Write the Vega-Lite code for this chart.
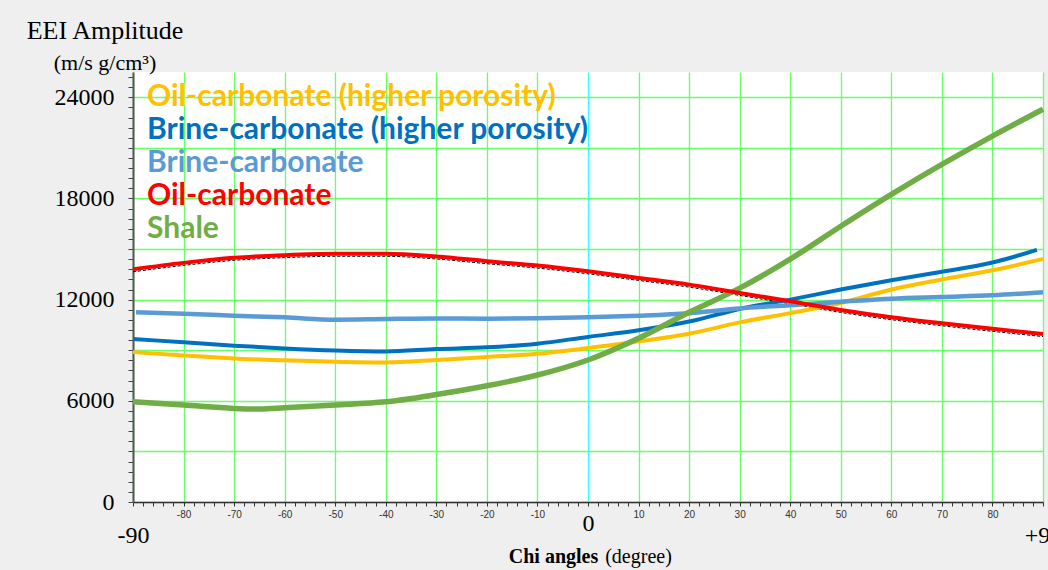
{
  "$schema": "https://vega.github.io/schema/vega-lite/v6.json",
  "width": 910,
  "height": 430,
  "autosize": {"type": "none"},
  "padding": {"left": 133, "top": 72, "right": 5, "bottom": 68},
  "background": "#efefef",
  "config": {"view": {"fill": "#ffffff", "stroke": null}},
  "title": {
    "text": "EEI Amplitude",
    "subtitle": "(m/s g/cm³)",
    "anchor": "start",
    "frame": "group",
    "align": "center",
    "dx": -28,
    "offset": -9,
    "font": "Liberation Serif",
    "fontSize": 26,
    "fontWeight": "normal",
    "color": "#000000",
    "subtitleFont": "Liberation Serif",
    "subtitleFontSize": 22,
    "subtitleColor": "#000000",
    "subtitlePadding": 9
  },
  "data": {
    "values": [
      {"series": "Oil-carbonate (higher porosity)", "chi": -90, "eei": 8890},
      {"series": "Oil-carbonate (higher porosity)", "chi": -80, "eei": 8690},
      {"series": "Oil-carbonate (higher porosity)", "chi": -70, "eei": 8510},
      {"series": "Oil-carbonate (higher porosity)", "chi": -60, "eei": 8400},
      {"series": "Oil-carbonate (higher porosity)", "chi": -50, "eei": 8320},
      {"series": "Oil-carbonate (higher porosity)", "chi": -40, "eei": 8280},
      {"series": "Oil-carbonate (higher porosity)", "chi": -30, "eei": 8420},
      {"series": "Oil-carbonate (higher porosity)", "chi": -20, "eei": 8600},
      {"series": "Oil-carbonate (higher porosity)", "chi": -10, "eei": 8790},
      {"series": "Oil-carbonate (higher porosity)", "chi": 0, "eei": 9130},
      {"series": "Oil-carbonate (higher porosity)", "chi": 10, "eei": 9530},
      {"series": "Oil-carbonate (higher porosity)", "chi": 20, "eei": 9980},
      {"series": "Oil-carbonate (higher porosity)", "chi": 30, "eei": 10650},
      {"series": "Oil-carbonate (higher porosity)", "chi": 40, "eei": 11200},
      {"series": "Oil-carbonate (higher porosity)", "chi": 50, "eei": 11800},
      {"series": "Oil-carbonate (higher porosity)", "chi": 60, "eei": 12600},
      {"series": "Oil-carbonate (higher porosity)", "chi": 70, "eei": 13200},
      {"series": "Oil-carbonate (higher porosity)", "chi": 80, "eei": 13740},
      {"series": "Oil-carbonate (higher porosity)", "chi": 90, "eei": 14420},

      {"series": "Brine-carbonate (higher porosity)", "chi": -90, "eei": 9670},
      {"series": "Brine-carbonate (higher porosity)", "chi": -80, "eei": 9470},
      {"series": "Brine-carbonate (higher porosity)", "chi": -70, "eei": 9270},
      {"series": "Brine-carbonate (higher porosity)", "chi": -60, "eei": 9110},
      {"series": "Brine-carbonate (higher porosity)", "chi": -50, "eei": 8990},
      {"series": "Brine-carbonate (higher porosity)", "chi": -40, "eei": 8930},
      {"series": "Brine-carbonate (higher porosity)", "chi": -30, "eei": 9070},
      {"series": "Brine-carbonate (higher porosity)", "chi": -20, "eei": 9170},
      {"series": "Brine-carbonate (higher porosity)", "chi": -10, "eei": 9390},
      {"series": "Brine-carbonate (higher porosity)", "chi": 0, "eei": 9790},
      {"series": "Brine-carbonate (higher porosity)", "chi": 10, "eei": 10180},
      {"series": "Brine-carbonate (higher porosity)", "chi": 20, "eei": 10700},
      {"series": "Brine-carbonate (higher porosity)", "chi": 30, "eei": 11450},
      {"series": "Brine-carbonate (higher porosity)", "chi": 40, "eei": 12000},
      {"series": "Brine-carbonate (higher porosity)", "chi": 50, "eei": 12600},
      {"series": "Brine-carbonate (higher porosity)", "chi": 60, "eei": 13150},
      {"series": "Brine-carbonate (higher porosity)", "chi": 70, "eei": 13650},
      {"series": "Brine-carbonate (higher porosity)", "chi": 80, "eei": 14200},
      {"series": "Brine-carbonate (higher porosity)", "chi": 88.8, "eei": 14950},

      {"series": "Brine-carbonate", "chi": -89.4, "eei": 11250},
      {"series": "Brine-carbonate", "chi": -80, "eei": 11170},
      {"series": "Brine-carbonate", "chi": -70, "eei": 11050},
      {"series": "Brine-carbonate", "chi": -60, "eei": 10950},
      {"series": "Brine-carbonate", "chi": -50, "eei": 10810},
      {"series": "Brine-carbonate", "chi": -40, "eei": 10850},
      {"series": "Brine-carbonate", "chi": -30, "eei": 10880},
      {"series": "Brine-carbonate", "chi": -20, "eei": 10870},
      {"series": "Brine-carbonate", "chi": -10, "eei": 10890},
      {"series": "Brine-carbonate", "chi": 0, "eei": 10950},
      {"series": "Brine-carbonate", "chi": 10, "eei": 11050},
      {"series": "Brine-carbonate", "chi": 20, "eei": 11200},
      {"series": "Brine-carbonate", "chi": 30, "eei": 11480},
      {"series": "Brine-carbonate", "chi": 40, "eei": 11670},
      {"series": "Brine-carbonate", "chi": 50, "eei": 11870},
      {"series": "Brine-carbonate", "chi": 60, "eei": 12060},
      {"series": "Brine-carbonate", "chi": 70, "eei": 12160},
      {"series": "Brine-carbonate", "chi": 80, "eei": 12260},
      {"series": "Brine-carbonate", "chi": 90, "eei": 12440},

      {"series": "Oil-carbonate", "chi": -90, "eei": 13800},
      {"series": "Oil-carbonate", "chi": -80, "eei": 14180},
      {"series": "Oil-carbonate", "chi": -70, "eei": 14480},
      {"series": "Oil-carbonate", "chi": -60, "eei": 14640},
      {"series": "Oil-carbonate", "chi": -50, "eei": 14720},
      {"series": "Oil-carbonate", "chi": -40, "eei": 14720},
      {"series": "Oil-carbonate", "chi": -30, "eei": 14560},
      {"series": "Oil-carbonate", "chi": -20, "eei": 14280},
      {"series": "Oil-carbonate", "chi": -10, "eei": 14020},
      {"series": "Oil-carbonate", "chi": 0, "eei": 13680},
      {"series": "Oil-carbonate", "chi": 10, "eei": 13290},
      {"series": "Oil-carbonate", "chi": 20, "eei": 12890},
      {"series": "Oil-carbonate", "chi": 30, "eei": 12400},
      {"series": "Oil-carbonate", "chi": 40, "eei": 11900},
      {"series": "Oil-carbonate", "chi": 50, "eei": 11390},
      {"series": "Oil-carbonate", "chi": 60, "eei": 10960},
      {"series": "Oil-carbonate", "chi": 70, "eei": 10600},
      {"series": "Oil-carbonate", "chi": 80, "eei": 10270},
      {"series": "Oil-carbonate", "chi": 90, "eei": 9960},

      {"series": "Shale", "chi": -90, "eei": 5940},
      {"series": "Shale", "chi": -80, "eei": 5750},
      {"series": "Shale", "chi": -70, "eei": 5550},
      {"series": "Shale", "chi": -65, "eei": 5510},
      {"series": "Shale", "chi": -60, "eei": 5590},
      {"series": "Shale", "chi": -50, "eei": 5750},
      {"series": "Shale", "chi": -40, "eei": 5940},
      {"series": "Shale", "chi": -30, "eei": 6370},
      {"series": "Shale", "chi": -20, "eei": 6890},
      {"series": "Shale", "chi": -10, "eei": 7530},
      {"series": "Shale", "chi": 0, "eei": 8420},
      {"series": "Shale", "chi": 10, "eei": 9710},
      {"series": "Shale", "chi": 20, "eei": 11250},
      {"series": "Shale", "chi": 30, "eei": 12680},
      {"series": "Shale", "chi": 40, "eei": 14400},
      {"series": "Shale", "chi": 50, "eei": 16350},
      {"series": "Shale", "chi": 60, "eei": 18240},
      {"series": "Shale", "chi": 70, "eei": 20020},
      {"series": "Shale", "chi": 80, "eei": 21700},
      {"series": "Shale", "chi": 90, "eei": 23290}
    ]
  },
  "layer": [
    {
      "transform": [{"filter": "datum.series === 'Oil-carbonate'"}],
      "mark": {"type": "line", "color": "#000000", "strokeWidth": 1, "strokeDash": [3, 2], "yOffset": 2.5, "interpolate": "monotone"},
      "encoding": {
        "x": {
          "field": "chi", "type": "quantitative",
          "scale": {"domain": [-90, 90], "nice": false, "zero": false},
          "axis": {
            "orient": "bottom",
            "values": [-90,-88,-86,-84,-82,-80,-78,-76,-74,-72,-70,-68,-66,-64,-62,-60,-58,-56,-54,-52,-50,-48,-46,-44,-42,-40,-38,-36,-34,-32,-30,-28,-26,-24,-22,-20,-18,-16,-14,-12,-10,-8,-6,-4,-2,0,2,4,6,8,10,12,14,16,18,20,22,24,26,28,30,32,34,36,38,40,42,44,46,48,50,52,54,56,58,60,62,64,66,68,70,72,74,76,78,80,82,84,86,88,90],
            "labelExpr": "(datum.value % 10 === 0 && abs(datum.value) < 90 && datum.value !== 0) ? '' + datum.value : ''",
            "labelFont": "Liberation Sans",
            "labelFontSize": 10,
            "labelColor": "#333333",
            "labelPadding": 3,
            "labelFlush": false,
            "labelOverlap": false,
            "tickSize": 4,
            "tickColor": "#333333",
            "domainColor": "#333333",
            "domainWidth": 1.5,
            "grid": true,
            "gridColor": {"condition": {"test": "datum.value === 0", "value": "#33ffff"}, "value": "#66ff66"},
            "gridOpacity": {"condition": {"test": "datum.value % 10 !== 0", "value": 0}, "value": 1},
            "gridWidth": 1.3,
            "title": null
          }
        },
        "y": {
          "field": "eei", "type": "quantitative",
          "scale": {"domain": [0, 25500], "nice": false},
          "axis": {
            "orient": "left",
            "values": [0,600,1200,1800,2400,3000,3600,4200,4800,5400,6000,6600,7200,7800,8400,9000,9600,10200,10800,11400,12000,12600,13200,13800,14400,15000,15600,16200,16800,17400,18000,18600,19200,19800,20400,21000,21600,22200,22800,23400,24000,24600,25200],
            "labelExpr": "datum.value % 6000 === 0 ? '' + datum.value : ''",
            "labelFont": "Liberation Serif",
            "labelFontSize": 24,
            "labelColor": "#000000",
            "labelPadding": 14,
            "labelOverlap": false,
            "labelFlush": false,
            "tickSize": 5,
            "tickColor": "#444444",
            "domainColor": "#555555",
            "domainWidth": 2,
            "grid": true,
            "gridColor": "#66ff66",
            "gridOpacity": {"condition": {"test": "datum.value % 3000 !== 0", "value": 0}, "value": 1},
            "gridWidth": 1.3,
            "title": null
          }
        }
      }
    },
    {
      "transform": [{"filter": "datum.series !== 'Oil-carbonate'"}],
      "mark": {"type": "line", "interpolate": "monotone"},
      "encoding": {
        "x": {
          "field": "chi", "type": "quantitative",
          "axis": {
            "orient": "bottom",
            "values": [-90, 0, 90],
            "labelExpr": "datum.value > 0 ? '+90' : '' + datum.value",
            "labelFont": "Liberation Serif",
            "labelFontSize": 24,
            "labelColor": "#000000",
            "labelBaseline": {"condition": {"test": "datum.value === 0", "value": "middle"}, "value": "top"},
            "labelPadding": 21,
            "labelFlush": false,
            "labelOverlap": false,
            "ticks": false,
            "tickSize": 0,
            "domain": false,
            "grid": false,
            "title": "Chi angles",
            "titleFont": "Liberation Serif",
            "titleFontSize": 20,
            "titleFontWeight": "bold",
            "titleColor": "#000000",
            "titleX": 420,
            "titleY": 60,
            "titleAlign": "center",
            "titleBaseline": "alphabetic"
          }
        },
        "y": {"field": "eei", "type": "quantitative", "axis": null},
        "color": {
          "field": "series", "type": "nominal",
          "scale": {
            "domain": ["Oil-carbonate (higher porosity)", "Brine-carbonate (higher porosity)", "Brine-carbonate", "Oil-carbonate", "Shale"],
            "range": ["#ffc000", "#0070c0", "#5b9bd5", "#ff0000", "#70ad47"]
          },
          "legend": {
            "orient": "none",
            "legendX": -16,
            "legendY": 10,
            "padding": 0,
            "title": null,
            "symbolSize": 0,
            "symbolStrokeWidth": 0,
            "symbolOpacity": 0,
            "labelOffset": 0,
            "labelFont": "Lato",
            "labelFontWeight": "bold",
            "labelFontSize": 30,
            "labelLimit": 800,
            "rowPadding": 3,
            "labelExpr": "datum.label === 'Shale' ? '\u2002Shale' : datum.label",
            "encode": {"labels": {"update": {"fill": {"signal": "scale('color', datum.value)"}}}}
          }
        },
        "strokeWidth": {
          "field": "series", "type": "nominal",
          "scale": {
            "type": "ordinal",
            "domain": ["Oil-carbonate (higher porosity)", "Brine-carbonate (higher porosity)", "Brine-carbonate", "Oil-carbonate", "Shale"],
            "range": [4, 4, 4.5, 4, 5.5]
          },
          "legend": null
        }
      }
    },
    {
      "transform": [{"filter": "datum.series === 'Oil-carbonate'"}],
      "mark": {"type": "line", "color": "#ff0000", "strokeWidth": 4, "interpolate": "monotone"},
      "encoding": {
        "x": {
          "field": "chi", "type": "quantitative",
          "axis": {
            "orient": "bottom",
            "labels": false,
            "ticks": false,
            "domain": false,
            "grid": false,
            "title": "(degree)",
            "titleFont": "Liberation Serif",
            "titleFontSize": 20,
            "titleFontWeight": "normal",
            "titleColor": "#000000",
            "titleX": 505,
            "titleY": 60,
            "titleAlign": "center",
            "titleBaseline": "alphabetic"
          }
        },
        "y": {"field": "eei", "type": "quantitative", "axis": null}
      }
    }
  ],
  "resolve": {"axis": {"x": "independent", "y": "independent"}}
}
